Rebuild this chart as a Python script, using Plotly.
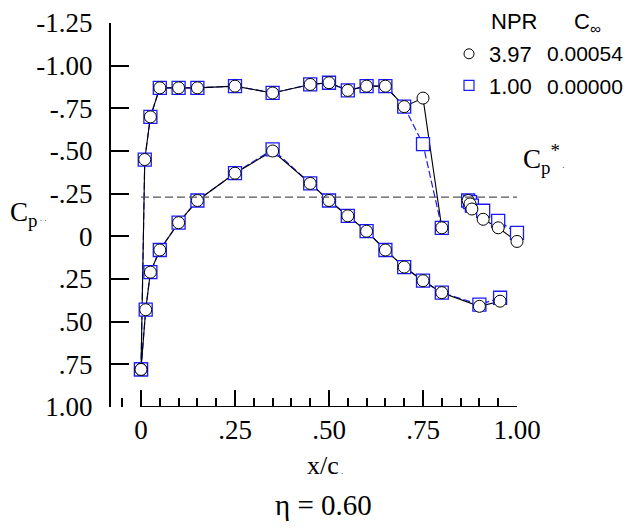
import plotly.graph_objects as go

# upper surface (suction side), both runs share stations
X_UPPER = [0, 0.01, 0.025, 0.05, 0.10, 0.15, 0.25, 0.35, 0.45, 0.50, 0.55, 0.60, 0.65, 0.70, 0.75, 0.80]
CP_UPPER_397 = [0.78, -0.45, -0.70, -0.87, -0.87, -0.87, -0.88, -0.84, -0.89, -0.90, -0.855, -0.88, -0.88, -0.76, -0.81, -0.05]
CP_UPPER_100 = [0.78, -0.45, -0.70, -0.87, -0.87, -0.87, -0.88, -0.84, -0.89, -0.90, -0.855, -0.88, -0.88, -0.76, -0.54, -0.05]

# lower surface
X_LOWER = [0, 0.0125, 0.025, 0.05, 0.10, 0.15, 0.25, 0.35, 0.45, 0.50, 0.55, 0.60, 0.65, 0.70, 0.75, 0.80, 0.90, 0.955]
CP_LOWER_397 = [0.78, 0.43, 0.21, 0.08, -0.08, -0.21, -0.37, -0.50, -0.31, -0.21, -0.12, -0.03, 0.08, 0.18, 0.26, 0.33, 0.41, 0.38]
CP_LOWER_100 = [0.78, 0.43, 0.21, 0.08, -0.08, -0.21, -0.37, -0.51, -0.31, -0.21, -0.12, -0.03, 0.08, 0.18, 0.26, 0.33, 0.40, 0.36]

# trailing-edge / nozzle region
X_TE = [0.87, 0.875, 0.88, 0.91, 0.95, 1.0]
CP_TE_397 = [-0.21, -0.19, -0.16, -0.10, -0.05, 0.03]
CP_TE_100 = [-0.21, -0.20, -0.18, -0.15, -0.09, -0.02]

CP_STAR = -0.23

RUNS = [
    # npr, c_inf, upper, lower, te
    ("1.00", "0.00000", CP_UPPER_100, CP_LOWER_100, CP_TE_100),
    ("3.97", "0.00054", CP_UPPER_397, CP_LOWER_397, CP_TE_397),
]

Y_TICKS = [-1.25, -1.0, -0.75, -0.5, -0.25, 0, 0.25, 0.5, 0.75, 1.0]
Y_LABELS = ["-1.25", "-1.00", "-.75", "-.50", "-.25", "0", ".25", ".50", ".75", "1.00"]
X_TICKS = [0, 0.25, 0.5, 0.75, 1.0]
X_LABELS = ["0", ".25", ".50", ".75", "1.00"]

SERIF = "Liberation Serif"
SANS = "Liberation Sans"
BLUE = "#1a1aff"

fig = go.Figure()

# lines first, markers on top
for npr, cinf, up, lo, te in RUNS:
    is_blue = npr == "1.00"
    line = dict(color=BLUE, width=1.2, dash="7px,3px") if is_blue else dict(color="black", width=1.1)
    for xs, ys in [(X_UPPER, up), (X_LOWER, lo), (X_TE, te)]:
        fig.add_trace(go.Scatter(x=xs, y=ys, mode="lines", line=line,
                                 showlegend=False, hoverinfo="skip", cliponaxis=False))

for npr, cinf, up, lo, te in RUNS:
    is_blue = npr == "1.00"
    mk = (dict(symbol="square", size=13, color="white", line=dict(color=BLUE, width=1.3))
          if is_blue else
          dict(symbol="circle", size=12, color="white", line=dict(color="black", width=1)))
    for xs, ys in [(X_UPPER, up), (X_LOWER, lo), (X_TE, te)]:
        fig.add_trace(go.Scatter(x=xs, y=ys, mode="markers", marker=mk,
                                 showlegend=False, cliponaxis=False))

# legend entries (NPR column); the C_inf column is written next to them
for npr, cinf, up, lo, te in RUNS[::-1]:
    is_blue = npr == "1.00"
    mk = (dict(symbol="square-open", size=10, color=BLUE, line=dict(width=1.2))
          if is_blue else dict(symbol="circle-open", size=10, color="black", line=dict(width=1)))
    fig.add_trace(go.Scatter(x=[None], y=[None], mode="markers", marker=mk, name=npr))

# Cp* reference line and detached x-axis line
fig.add_shape(type="line", xref="x", yref="y", x0=0, x1=1, y0=CP_STAR, y1=CP_STAR,
              line=dict(color="#555555", width=1.3, dash="8px,4px"))
fig.add_shape(type="line", xref="x", yref="y", x0=0, x1=1, y0=1.0, y1=1.0,
              line=dict(color="black", width=2))

# page pixel -> paper coords (plot area 406 x 384)
def px_x(p):
    return (p - 111) / 406

def px_y(p):
    return (407 - p) / 384

annos = [
    dict(text="C<sub>p</sub><span style='font-size:9px'> . .</span>", x=px_x(8), y=px_y(195),
         xanchor="left", yanchor="top", font=dict(family=SERIF, size=27)),
    dict(text="C<sub>p</sub><sup>*</sup><span style='font-size:9px'> .</span>", x=px_x(521), y=px_y(138),
         xanchor="left", yanchor="top", font=dict(family=SERIF, size=27)),
    dict(text="x/c<span style='font-size:9px'> .</span>", x=px_x(325), y=px_y(465),
         xanchor="center", yanchor="middle", font=dict(family=SERIF, size=26)),
    dict(text="\u03b7 = 0.60", x=px_x(323), y=px_y(505),
         xanchor="center", yanchor="middle", font=dict(family=SERIF, size=29)),
    dict(text="NPR", x=px_x(489), y=px_y(21), xanchor="left", yanchor="middle",
         font=dict(family=SANS, size=22)),
    dict(text="C<sub>\u221e</sub>", x=px_x(572), y=px_y(23), xanchor="left", yanchor="middle",
         font=dict(family=SANS, size=22)),
]
for (npr, cinf, up, lo, te), row_y in zip(RUNS[::-1], [53, 86]):
    annos.append(dict(text=cinf, x=px_x(545), y=px_y(row_y), xanchor="left", yanchor="middle",
                      font=dict(family=SANS, size=21)))
for a in annos:
    fig.add_annotation(xref="paper", yref="paper", showarrow=False, **a)

# the page body has an 8px margin, so the figure is 8px smaller on each axis
fig.update_layout(
    width=623, height=523,
    margin=dict(l=103, r=114, t=15, b=124, autoexpand=False),
    plot_bgcolor="white", paper_bgcolor="white",
    font=dict(family=SERIF, color="black"),
    showlegend=True,
    legend=dict(x=px_x(449), y=px_y(33), xanchor="left", yanchor="top",
                font=dict(family=SANS, size=22, color="black"),
                bgcolor="rgba(0,0,0,0)", borderwidth=0, itemclick=False),
)

fig.update_xaxes(
    range=[-0.0798, 1.0], showgrid=False, zeroline=False, showline=False,
    tickvals=X_TICKS, ticktext=X_LABELS, ticks="inside", ticklen=17, tickwidth=2,
    tickcolor="black", tickfont=dict(family=SERIF, size=27), ticklabelstandoff=4,
    minor=dict(dtick=0.05, tick0=0, ticks="inside", ticklen=9, tickwidth=1.5, tickcolor="black",
               showgrid=False),
)
fig.update_yaxes(
    range=[1.0, -1.25], showgrid=False, zeroline=False, showline=True, linecolor="black",
    linewidth=2, tickvals=Y_TICKS, ticktext=Y_LABELS, ticks="inside", ticklen=18, tickwidth=2,
    tickcolor="black", tickfont=dict(family=SERIF, size=27), ticklabelstandoff=11,
)

fig.write_html("out.html")
